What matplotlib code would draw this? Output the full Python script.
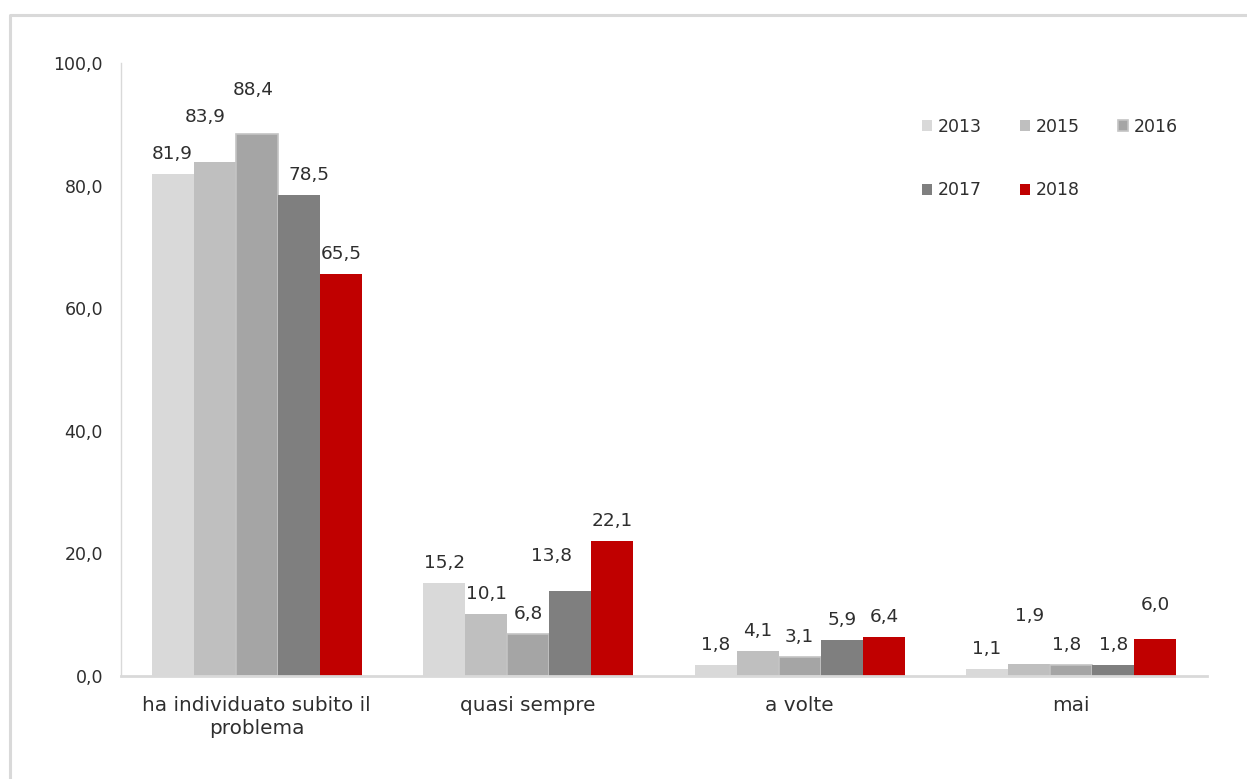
import numpy as np
import matplotlib.pyplot as plt
from matplotlib.lines import Line2D
from matplotlib.patches import Patch
from matplotlib.ticker import FuncFormatter

# ==================== DATA ====================
CATEGORIES = ["ha individuato subito il\nproblema", "quasi sempre", "a volte", "mai"]
YEARS = ["2013", "2015", "2016", "2017", "2018"]
VAL_2013 = [81.9, 15.2, 1.8, 1.1]
VAL_2015 = [83.9, 10.1, 4.1, 1.9]
VAL_2016 = [88.4, 6.8, 3.1, 1.8]
VAL_2017 = [78.5, 13.8, 5.9, 1.8]
VAL_2018 = [65.5, 22.1, 6.4, 6.0]
SERIES = [VAL_2013, VAL_2015, VAL_2016, VAL_2017, VAL_2018]

# ==================== STYLE ====================
COLORS = ["#d9d9d9", "#bfbfbf", "#a5a5a5", "#7f7f7f", "#c00000"]
EDGES = ["none", "none", "#c4c4c4", "none", "none"]
TEXT_COLOR = "#2e2e2e"
AXIS_COLOR = "#d9d9d9"
BAR_WIDTH = 0.155
FONT_SIZE = 12.5
W, H = 1247, 779

# labels sit ~20px above the bar; a few were dragged elsewhere (dx, dy in px)
LABEL_DEFAULT = (0, 20)
LABEL_NUDGE = {
    (0, 1): (-9, 45), (0, 2): (-4, 44), (0, 3): (10, 20),
    (1, 3): (-19, 35),
    (3, 1): (0, 48), (3, 2): (-5, 20), (3, 4): (0, 34),
}


def fmt_it(v, pos=None):
    return f"{v:.1f}".replace(".", ",")


# ==================== PLOT ====================
plt.rcParams["font.family"] = "DejaVu Sans"
fig = plt.figure(figsize=(W / 100, H / 100), dpi=100)
ax = fig.add_axes([121 / W, 1 - 676 / H, (1207 - 121) / W, (676 - 63) / H])

x = np.arange(len(CATEGORIES))
offsets = (np.arange(len(YEARS)) - (len(YEARS) - 1) / 2) * BAR_WIDTH

for i, (vals, year) in enumerate(zip(SERIES, YEARS)):
    bars = ax.bar(x + offsets[i], vals, BAR_WIDTH, color=COLORS[i],
                  edgecolor=EDGES[i], linewidth=1.2, label=year, zorder=2)
    for j, b in enumerate(bars):
        dx, dy = LABEL_NUDGE.get((j, i), LABEL_DEFAULT)
        ax.annotate(fmt_it(vals[j]), (b.get_x() + b.get_width() / 2, vals[j]),
                    xytext=(dx * 0.72, dy * 0.72), textcoords="offset points",
                    ha="center", va="center", fontsize=13.3, color=TEXT_COLOR)

ax.set_xlim(-0.5, 3.5)
ax.set_ylim(0, 100)
ax.set_yticks(np.arange(0, 101, 20))
ax.yaxis.set_major_formatter(FuncFormatter(fmt_it))
ax.set_xticks(x)
ax.set_xticklabels(CATEGORIES, linespacing=1.25)
ax.tick_params(axis="y", length=0, pad=13, labelsize=FONT_SIZE, labelcolor=TEXT_COLOR)
ax.tick_params(axis="x", length=0, pad=14.5, labelsize=14.4, labelcolor=TEXT_COLOR)

for side in ["top", "right"]:
    ax.spines[side].set_visible(False)
ax.spines["left"].set_color(AXIS_COLOR)
ax.spines["left"].set_linewidth(1.0)
ax.spines["bottom"].set_color(AXIS_COLOR)
ax.spines["bottom"].set_linewidth(2.0)

# legend in 2 rows filled row by row
handles = [Patch(facecolor=COLORS[i], edgecolor=EDGES[i], linewidth=1.2) for i in range(5)]
order = [0, 3, 1, 4, 2]
fig.legend([handles[k] for k in order], [YEARS[k] for k in order],
           ncol=3, loc="upper left", bbox_to_anchor=(922 / W, 1 - 118 / H),
           frameon=False, fontsize=FONT_SIZE, handlelength=0.6, handleheight=0.6,
           handletextpad=0.3, columnspacing=2.2, labelspacing=2.62,
           borderpad=0, borderaxespad=0, labelcolor=TEXT_COLOR)

# outer frame of the chart area (left and top only)
fig.add_artist(Line2D([10 / W, 10 / W, 1.0], [0.0, 1 - 15 / H, 1 - 15 / H],
                      transform=fig.transFigure, color=AXIS_COLOR, linewidth=2.2))

fig.savefig("out.png", dpi=100)
